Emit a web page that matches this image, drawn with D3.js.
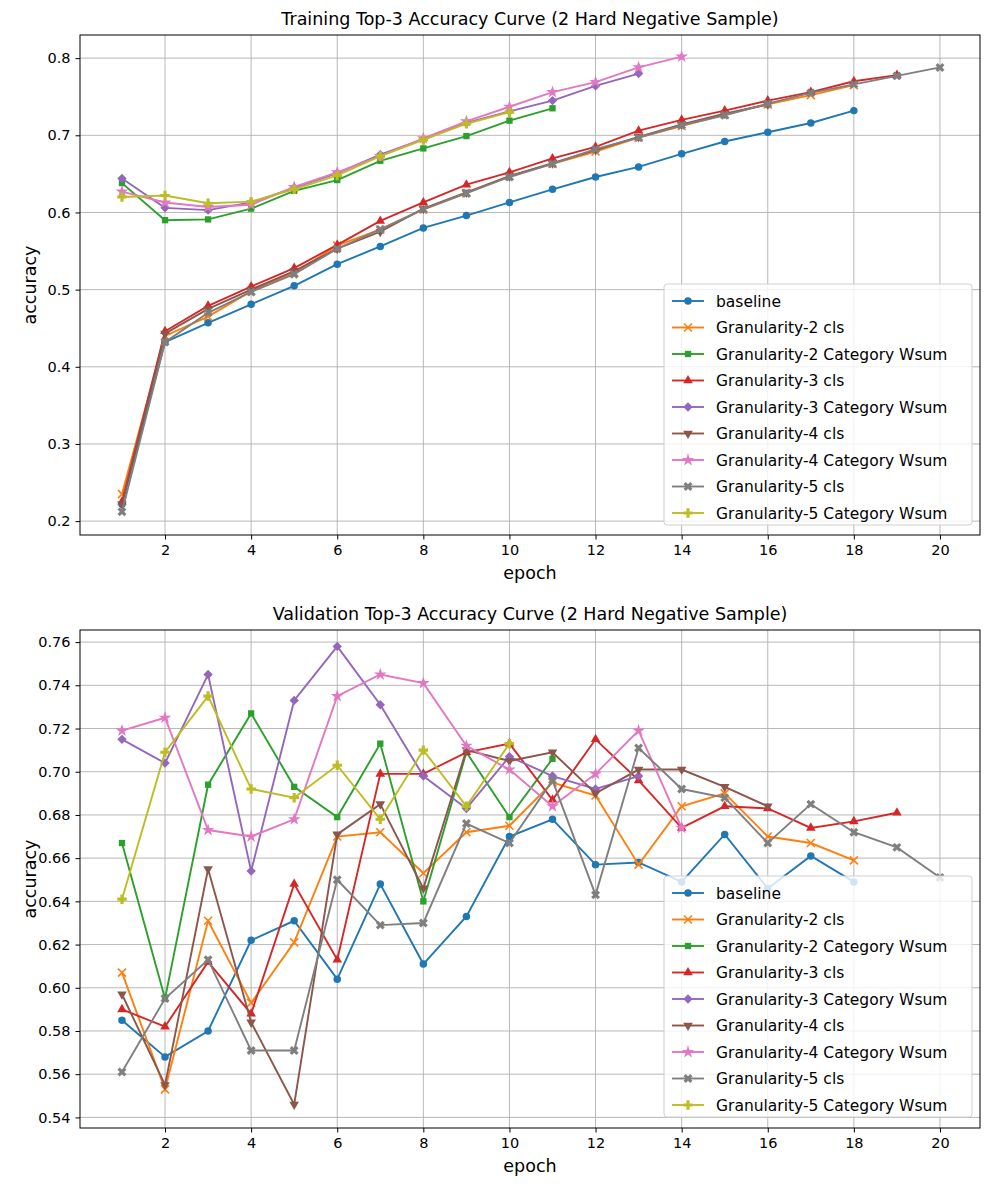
<!DOCTYPE html>
<html><head><meta charset="utf-8">
<script src="https://cdn.jsdelivr.net/npm/d3@7"></script>
<style>body{margin:0;background:#fff}text{font-family:"DejaVu Sans",sans-serif}</style>
</head><body><svg id="c" width="989" height="1189"></svg>
<script>
const names = ['baseline','Granularity-2 cls','Granularity-2 Category Wsum','Granularity-3 cls','Granularity-3 Category Wsum','Granularity-4 cls','Granularity-4 Category Wsum','Granularity-5 cls','Granularity-5 Category Wsum'];
const colors = ['#1f77b4','#ff7f0e','#2ca02c','#d62728','#9467bd','#8c564b','#e377c2','#7f7f7f','#bcbd22'];
const markers = ['o','x','s','^','D','v','*','X','P'];
const xTicks = [2,4,6,8,10,12,14,16,18,20];

const trainTop3 = [
  [0.222,0.432,0.457,0.481,0.505,0.533,0.556,0.580,0.596,0.613,0.630,0.646,0.659,0.676,0.692,0.704,0.716,0.732],
  [0.235,0.440,0.465,0.498,0.522,0.557,0.578,0.604,0.625,0.647,0.663,0.679,0.697,0.712,0.727,0.740,0.752,0.765],
  [0.638,0.590,0.591,0.605,0.628,0.642,0.667,0.683,0.699,0.719,0.735],
  [0.225,0.446,0.479,0.504,0.528,0.558,0.589,0.613,0.636,0.652,0.670,0.685,0.706,0.720,0.732,0.745,0.756,0.770,0.778],
  [0.644,0.606,0.603,0.613,0.632,0.651,0.675,0.695,0.716,0.731,0.745,0.764,0.780],
  [0.222,0.443,0.475,0.500,0.524,0.553,0.575,0.605,0.626,0.647,0.664,0.681,0.698,0.714,0.728,0.740],
  [0.627,0.613,0.607,0.610,0.633,0.652,0.673,0.696,0.718,0.737,0.756,0.769,0.788,0.802],
  [0.212,0.432,0.470,0.497,0.520,0.553,0.578,0.604,0.625,0.646,0.663,0.682,0.697,0.713,0.726,0.741,0.755,0.766,0.777,0.788],
  [0.620,0.622,0.612,0.614,0.630,0.648,0.673,0.694,0.715,0.730]
];
const valTop3 = [
  [0.585,0.568,0.580,0.622,0.631,0.604,0.648,0.611,0.633,0.670,0.678,0.657,0.658,0.649,0.671,0.646,0.661,0.649],
  [0.607,0.553,0.631,0.593,0.621,0.670,0.672,0.653,0.672,0.675,0.695,0.689,0.657,0.684,0.690,0.670,0.667,0.659],
  [0.667,0.595,0.694,0.727,0.693,0.679,0.713,0.640,0.709,0.679,0.706],
  [0.590,0.582,0.612,0.588,0.648,0.613,0.699,0.699,0.709,0.713,0.687,0.715,0.696,0.674,0.684,0.683,0.674,0.677,0.681],
  [0.715,0.704,0.745,0.654,0.733,0.758,0.731,0.698,0.683,0.707,0.698,0.692,0.698],
  [0.597,0.555,0.655,0.584,0.546,0.671,0.685,0.646,0.710,0.705,0.709,0.690,0.701,0.701,0.693,0.684],
  [0.719,0.725,0.673,0.670,0.678,0.735,0.745,0.741,0.712,0.701,0.684,0.699,0.719,0.674],
  [0.561,0.595,0.613,0.571,0.571,0.650,0.629,0.630,0.676,0.667,0.696,0.643,0.711,0.692,0.688,0.667,0.685,0.672,0.665,0.651],
  [0.641,0.709,0.735,0.692,0.688,0.703,0.678,0.710,0.684,0.713]
];
const trainYTicks = [0.2,0.3,0.4,0.5,0.6,0.7,0.8];
const valYTicks = [0.54,0.56,0.58,0.60,0.62,0.64,0.66,0.68,0.70,0.72,0.74,0.76];

const svg = d3.select('#c');

function marker(g, m, color) {
  const s = d3.symbol();
  if (m === 'o') g.append('path').attr('d', s.type(d3.symbolCircle).size(44)()).attr('fill', color);
  else if (m === 's') g.append('path').attr('d', s.type(d3.symbolSquare).size(40)()).attr('fill', color);
  else if (m === '^') g.append('path').attr('d', s.type(d3.symbolTriangle).size(40)()).attr('fill', color);
  else if (m === 'v') g.append('path').attr('d', s.type(d3.symbolTriangle).size(40)()).attr('fill', color).attr('transform', 'rotate(180)');
  else if (m === 'D') g.append('path').attr('d', s.type(d3.symbolSquare).size(44)()).attr('fill', color).attr('transform', 'rotate(45)');
  else if (m === '*') g.append('path').attr('d', s.type(d3.symbolStar).size(50)()).attr('fill', color);
  else if (m === 'P') g.append('path').attr('d', s.type(d3.symbolCross).size(50)()).attr('fill', color);
  else if (m === 'X') g.append('path').attr('d', s.type(d3.symbolCross).size(50)()).attr('fill', color).attr('transform', 'rotate(45)');
  else if (m === 'x') g.append('path').attr('d', 'M-4,-4L4,4M-4,4L4,-4').attr('stroke', color).attr('stroke-width', 1.6);
}

function chart(top, bottom, yDom, yTicks, fmt, title, series, legendTop) {
  const x = d3.scaleLinear().domain([0.025, 20.93]).range([80, 980]);
  const y = d3.scaleLinear().domain(yDom).range([bottom, top]);
  const g = svg.append('g');
  // grid
  g.selectAll('.gx').data(xTicks).join('line').attr('x1', d => x(d)).attr('x2', d => x(d))
    .attr('y1', top).attr('y2', bottom).attr('stroke', '#b0b0b0').attr('stroke-width', 0.9);
  g.selectAll('.gy').data(yTicks).join('line').attr('y1', d => y(d)).attr('y2', d => y(d))
    .attr('x1', 80).attr('x2', 980).attr('stroke', '#b0b0b0').attr('stroke-width', 0.9);
  const ax = g.append('g').attr('transform', `translate(0,${bottom})`)
    .call(d3.axisBottom(x).tickValues(xTicks).tickSize(4.5).tickPadding(5));
  const ay = g.append('g').attr('transform', 'translate(80,0)')
    .call(d3.axisLeft(y).tickValues(yTicks).tickFormat(d3.format(fmt)).tickSize(4.5).tickPadding(5));
  [ax, ay].forEach(a => { a.selectAll('text').attr('font-size', 14.5).attr('fill', '#000'); a.select('.domain').remove(); });
  g.append('rect').attr('x', 80).attr('y', top).attr('width', 900).attr('height', bottom - top)
    .attr('fill', 'none').attr('stroke', '#000').attr('stroke-width', 1);

  series.forEach((vals, i) => {
    const pts = vals.map((v, j) => [j + 1, v]);
    g.append('path').datum(pts).attr('fill', 'none').attr('stroke', colors[i]).attr('stroke-width', 1.9)
      .attr('d', d3.line().x(d => x(d[0])).y(d => y(d[1])));
    pts.forEach(p => marker(g.append('g').attr('transform', `translate(${x(p[0])},${y(p[1])})`), markers[i], colors[i]));
  });

  g.append('text').attr('x', 530).attr('y', top - 10).attr('text-anchor', 'middle').attr('font-size', 17.5).text(title);
  g.append('text').attr('x', 530).attr('y', bottom + 44).attr('text-anchor', 'middle').attr('font-size', 17.5).text('epoch');
  g.append('text').attr('transform', `translate(36,${(top + bottom) / 2}) rotate(-90)`).attr('text-anchor', 'middle')
    .attr('font-size', 17.5).text('accuracy');

  const lg = g.append('g').attr('transform', `translate(664,${legendTop})`);
  lg.append('rect').attr('width', 308).attr('height', 241).attr('rx', 3).attr('fill', 'rgba(255,255,255,0.8)')
    .attr('stroke', '#d0d0d0');
  names.forEach((n, i) => {
    const r = lg.append('g').attr('transform', `translate(0,${17 + i * 26.5})`);
    r.append('line').attr('x1', 8).attr('x2', 40).attr('stroke', colors[i]).attr('stroke-width', 1.9);
    marker(r.append('g').attr('transform', 'translate(24,0)'), markers[i], colors[i]);
    r.append('text').attr('x', 52).attr('y', 5.5).attr('font-size', 15.5).text(n);
  });
}

chart(35, 535, [0.182, 0.830], trainYTicks, '.1f', 'Training Top-3 Accuracy Curve (2 Hard Negative Sample)', trainTop3, 284);
chart(630, 1128, [0.5351, 0.7656], valYTicks, '.2f', 'Validation Top-3 Accuracy Curve (2 Hard Negative Sample)', valTop3, 876);
</script></body></html>
